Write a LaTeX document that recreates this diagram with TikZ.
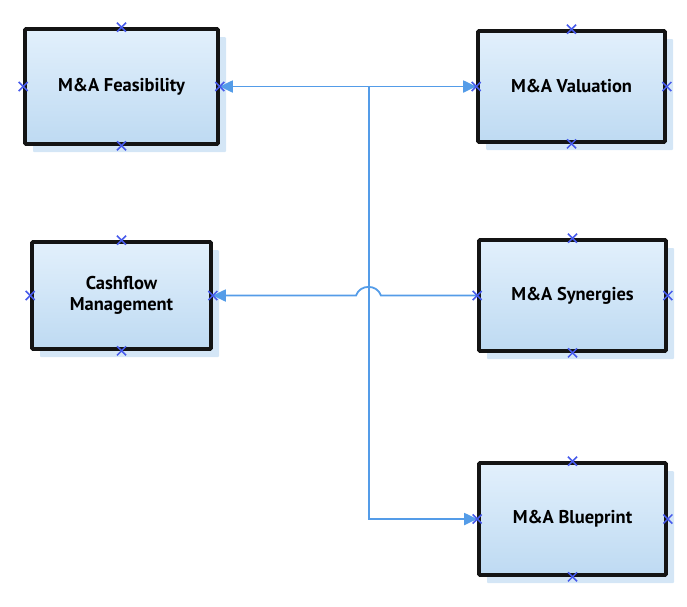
\documentclass[tikz,border=0pt]{standalone}
\usepackage{fontspec}
\setmainfont{PT Sans}
\usetikzlibrary{arrows.meta,shadows}
\definecolor{lineblue}{RGB}{84,156,232}
\definecolor{xblue}{RGB}{70,90,235}
\definecolor{fillA}{RGB}{226,240,252}
\definecolor{fillB}{RGB}{190,218,242}
\definecolor{shadowblue}{RGB}{212,230,246}
\tikzset{
  box/.style={draw=black!92, line width=3.6pt, rounded corners=1pt,
    top color=fillA, bottom color=fillB, align=center,
    font=\bfseries\fontsize{18.5}{20.5}\selectfont, inner sep=0pt,
    general shadow={fill=shadowblue, shadow xshift=8pt, shadow yshift=-8pt}},
  conn/.style={draw=lineblue, line width=1.8pt},
  tip/.style={-{Triangle[length=13pt,width=12pt]}},
  xmk/.style={draw=xblue, line width=1.5pt},
}
\begin{document}
\begin{tikzpicture}[x=1pt,y=-1pt]
\useasboundingbox (0,0) rectangle (687,606);
\node[box, minimum width=193pt, minimum height=115pt] (feas) at (121.5,86.5) {M\&A Feasibility};
\node[box, minimum width=187pt, minimum height=111pt] (val) at (571.5,86.5) {M\&A Valuation};
\node[box, minimum width=179pt, minimum height=107pt] (cash) at (121.5,295.5) {Cashflow\\Management};
\node[box, minimum width=187pt, minimum height=111pt] (syn) at (572.5,295.5) {M\&A Synergies};
\node[box, minimum width=187pt, minimum height=112pt] (blue) at (572.5,519) {M\&A Blueprint};
\coordinate (trunk) at (369,86.5);
\coordinate (hopR) at (381,295.5);
\coordinate (hopL) at (356,295.5);
\draw[conn, {Triangle[length=13pt,width=12pt]}-{Triangle[length=13pt,width=12pt]}] (feas.east) -- (val.west);
\draw[conn, tip] (trunk) |- (blue.west);
\draw[conn, tip] (syn.west) -- (hopR) .. controls (377,284) and (360,284) .. (hopL) -- (cash.east);
\foreach \n in {feas,val,cash,syn,blue}
  \foreach \a in {north,south,east,west}
    \draw[xmk] (\n.\a) +(-4.5,-4.5) -- +(4.5,4.5) +(-4.5,4.5) -- +(4.5,-4.5);
\end{tikzpicture}
\end{document}
